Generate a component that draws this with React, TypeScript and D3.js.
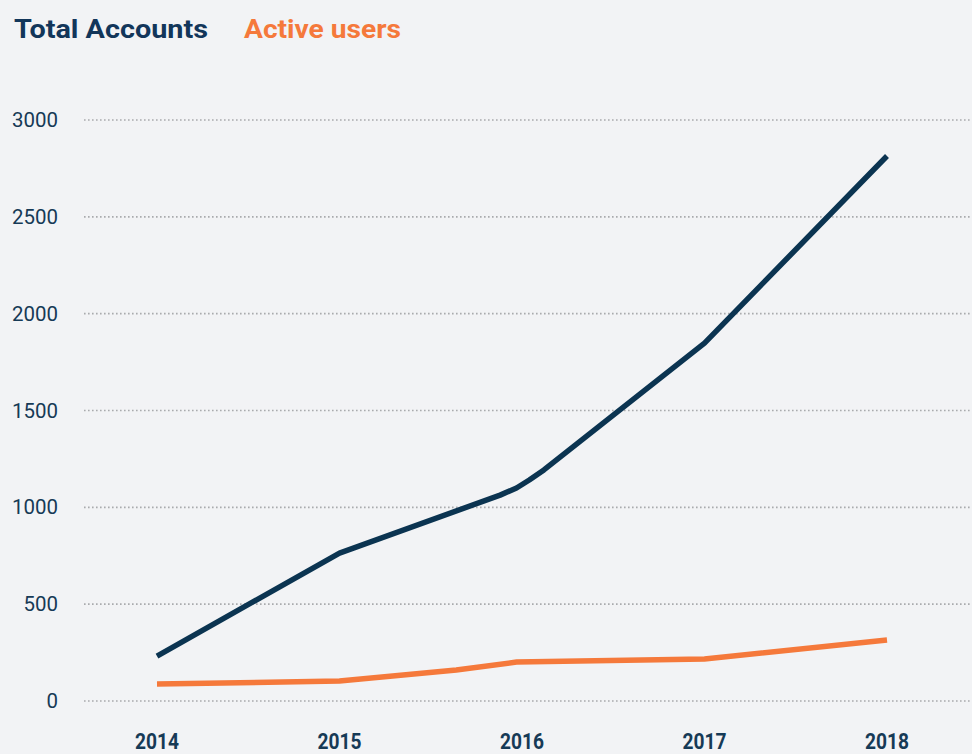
import { useEffect, useRef } from 'react';
import * as d3 from 'd3';

// fractional years so the in-between points land where they sit in the picture
const totalYears = [2014, 2015, 2015.88, 2015.97, 2016.04, 2016.12, 2017, 2018];
const totalValues = [232, 764, 1063, 1100, 1141, 1193, 1848, 2814];

const activeYears = [2014, 2015, 2015.64, 2015.97, 2017, 2018];
const activeValues = [88, 103, 160, 201, 217, 315];

const yearTicks = [2014, 2015, 2016, 2017, 2018];
const valueTicks = [0, 500, 1000, 1500, 2000, 2500, 3000];

const legendLabels = ['Total Accounts', 'Active users'];

const NAVY = '#0b3451';
const ORANGE = '#f5793b';
const TEXT = '#163a56';

export default function App() {
  const svgRef = useRef<SVGSVGElement>(null);

  useEffect(() => {
    if (!svgRef.current) return;
    const svg = d3.select(svgRef.current);
    svg.selectAll('*').remove();

    const width = 972;
    const height = 754;

    const x = d3.scaleLinear().domain([2014, 2018]).range([157, 887]);
    const y = d3.scaleLinear().domain([0, 3000]).range([701, 120]);

    svg.append('rect').attr('width', width).attr('height', height).attr('fill', '#f2f3f5');

    // Grid lines
    svg.append('g')
      .selectAll('line')
      .data(valueTicks)
      .join('line')
      .attr('x1', 84)
      .attr('x2', width)
      .attr('y1', d => y(d))
      .attr('y2', d => y(d))
      .attr('stroke', '#a9abad')
      .attr('stroke-width', 1.6)
      .attr('stroke-dasharray', '1.6,2.4');

    // Y labels
    svg.append('g')
      .attr('fill', TEXT)
      .attr('text-anchor', 'end')
      .attr('font-family', 'Roboto, sans-serif')
      .attr('font-size', 20)
      .selectAll('text')
      .data(valueTicks)
      .join('text')
      .attr('x', 58)
      .attr('y', d => y(d) + 7)
      .attr('textLength', d => String(d).length * 11.5)
      .attr('lengthAdjust', 'spacingAndGlyphs')
      .text(d => String(d));

    // X labels (condensed look)
    svg.append('g')
      .attr('fill', TEXT)
      .attr('font-family', 'Roboto, sans-serif')
      .attr('font-weight', 'bold')
      .attr('font-size', 21.5)
      .selectAll('text')
      .data(yearTicks)
      .join('text')
      .attr('x', d => x(d) - 22)
      .attr('y', 749)
      .attr('textLength', 44)
      .attr('lengthAdjust', 'spacingAndGlyphs')
      .text(d => String(d));

    const totalLine = d3.line<number>()
      .x((_, i) => x(totalYears[i]))
      .y(d => y(d));

    const activeLine = d3.line<number>()
      .x((_, i) => x(activeYears[i]))
      .y(d => y(d));

    svg.append('path')
      .datum(activeValues)
      .attr('d', activeLine)
      .attr('fill', 'none')
      .attr('stroke', ORANGE)
      .attr('stroke-width', 5.5);

    svg.append('path')
      .datum(totalValues)
      .attr('d', totalLine)
      .attr('fill', 'none')
      .attr('stroke', NAVY)
      .attr('stroke-width', 5.5)
      .attr('stroke-linejoin', 'round');

    // Legend
    const legend = svg.append('g')
      .attr('font-family', 'Roboto, sans-serif')
      .attr('font-weight', 'bold')
      .attr('font-size', 26);
    legend.append('text').attr('x', 14).attr('y', 38).attr('fill', '#12365a')
      .attr('textLength', 194).attr('lengthAdjust', 'spacingAndGlyphs').text(legendLabels[0]);
    legend.append('text').attr('x', 244).attr('y', 38).attr('fill', ORANGE)
      .attr('textLength', 157).attr('lengthAdjust', 'spacingAndGlyphs').text(legendLabels[1]);
  }, []);

  return (
    <svg
      ref={svgRef}
      width={972}
      height={754}
      style={{ position: 'absolute', left: 0, top: 0, display: 'block' }}
    />
  );
}
